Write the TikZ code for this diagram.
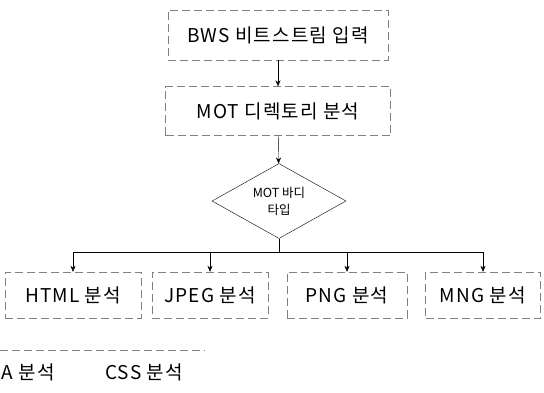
\documentclass[tikz,border=0pt]{standalone}
\usepackage{fontspec}
\setmainfont{Noto Sans CJK KR}
\newfontfamily\widefont{Noto Sans CJK KR}[LetterSpace=6]
\usetikzlibrary{shapes, arrows, arrows.meta}

\begin{document}
\begin{tikzpicture}[x=1pt, y=1pt, >={Stealth[length=6pt, width=5pt]},
        box/.style={draw=black!50, dash pattern=on 8pt off 4pt, thin, inner sep=0pt, font=\widefont\fontsize{19}{21}\selectfont},
        lbl/.style={inner sep=0pt, font=\widefont\fontsize{19}{21}\selectfont},
        dec/.style={draw, thin, diamond, aspect=1.8, minimum width=134pt, minimum height=75pt, inner sep=0pt, align=center, font=\fontsize{12.5}{17}\selectfont}]
            \useasboundingbox (0,0) rectangle (544,392);
            \clip (0,0) rectangle (544,392);

            \node[box, minimum width=220pt, minimum height=50pt] (n0) at (278, 357) {BWS 비트스트림 입력};
            \node[box, minimum width=225pt, minimum height=49pt] (n1) at (278, 281) {MOT 디렉토리 분석};
            \node[dec] (n2) at (279, 191) {MOT 바디\\타입};

            \node[box, minimum width=136pt, minimum height=46pt] (n3) at (73, 97) {HTML 분석};
            \node[box, minimum width=116pt, minimum height=46pt] (n4) at (210, 97) {JPEG 분석};
            \node[box, minimum width=120pt, minimum height=46pt] (n5) at (347, 97) {PNG 분석};
            \node[box, minimum width=115pt, minimum height=46pt] (n6) at (483, 97) {MNG 분석};

            % lower row, cut off by the page edge
            \node[lbl] (n7) at (28, 20) {A 분석};
            \node[lbl] (n8) at (144, 20) {CSS 분석};
            \draw[box] (0, 42) -- (205, 42);

            \coordinate (bus) at (279, 140);

            \draw[->] (n0) -- (n1);
            \draw[->] (n1) -- (n2);
            \draw (n2.south) -- (bus);
            \draw (n3.north |- bus) -- (n6.north |- bus);
            \foreach \n in {n3, n4, n5, n6}
                \draw[->] (\n.north |- bus) -- (\n.north);
    	\end{tikzpicture}
\end{document}
